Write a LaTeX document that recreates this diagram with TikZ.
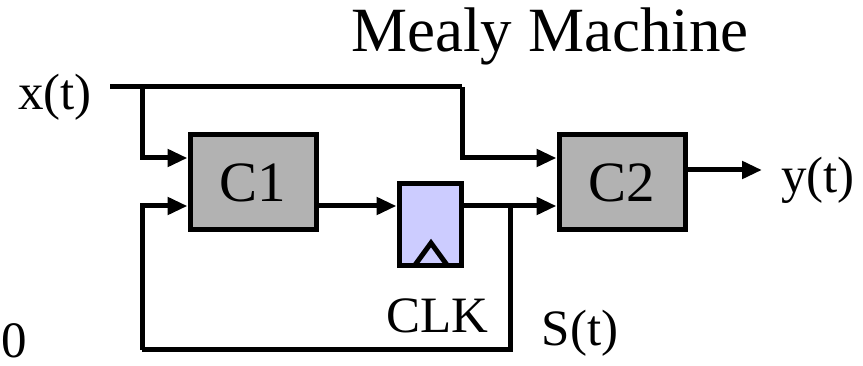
\documentclass[tikz,border=0pt]{standalone}
\usepackage{fontspec}
\setmainfont{Liberation Serif}
\usetikzlibrary{arrows.meta}
\begin{document}
\begin{tikzpicture}[x=1pt,y=-1pt,
  wire/.style={line width=5pt,line join=miter},
  arr/.style={wire,-{Triangle[length=20pt,width=17pt]}},
  cbox/.style={draw,line width=5pt,fill=black!30,minimum width=126pt,minimum height=95pt,inner sep=0pt,font=\fontsize{57}{60}\selectfont},
  regbox/.style={draw,line width=5pt,fill={rgb,255:red,204;green,204;blue,255},minimum width=62pt,minimum height=82pt,inner sep=0pt},
  lbl/.style={font=\fontsize{51}{60}\selectfont,inner sep=0pt,anchor=base},
  title/.style={font=\fontsize{63}{70}\selectfont,inner sep=0pt,anchor=base}]
\useasboundingbox (0,0) rectangle (863,366);
% blocks
\node[cbox] (c1) at (253,182.5) {C1};
\node[cbox] (c2) at (622,182.5) {C2};
\node[regbox] (reg) at (430,225) {};
% clock triangle
\coordinate (tl) at (415,265);
\coordinate (tt) at (431,243);
\coordinate (tr) at (447,265);
\draw[wire] (tl) -- (tt) -- (tr);
% texts
\node[title] (ttl) at (550,52) {Mealy Machine};
\node[lbl] (xt) at (55,110) {x(t)};
\node[lbl] (yt) at (818,193) {y(t)};
\node[lbl] (st) at (580,346) {S(t)};
\node[lbl] (clk) at (437,333) {CLK};
\node[lbl] (zero) at (14,358) {0};
% levels
\coordinate (ytop) at (0,87);
\coordinate (yin1) at (0,158);
\coordinate (yin2) at (0,206);
\coordinate (ybot) at (0,350);
\coordinate (xs) at (110,87);
\coordinate (j1) at (142,87);
\coordinate (j2) at (462,87);
\coordinate (jf) at (510,206);
\coordinate (fb) at (142,350);
\coordinate (yo) at (762,170);
% wires
\draw[wire] (xs) -- (j2);
\draw[arr] (j2) |- (c2.west |- yin1);
\draw[arr] (j1) |- (c1.west |- yin1);
\draw[arr] (c1.east |- yin2) -- (reg.west |- yin2);
\draw[arr] (reg.east |- yin2) -- (c2.west |- yin2);
\draw[wire] (jf) |- (fb);
\draw[arr] (fb) |- (c1.west |- yin2);
\draw[arr] (c2.east |- yo) -- (yo);
\end{tikzpicture}
\end{document}
